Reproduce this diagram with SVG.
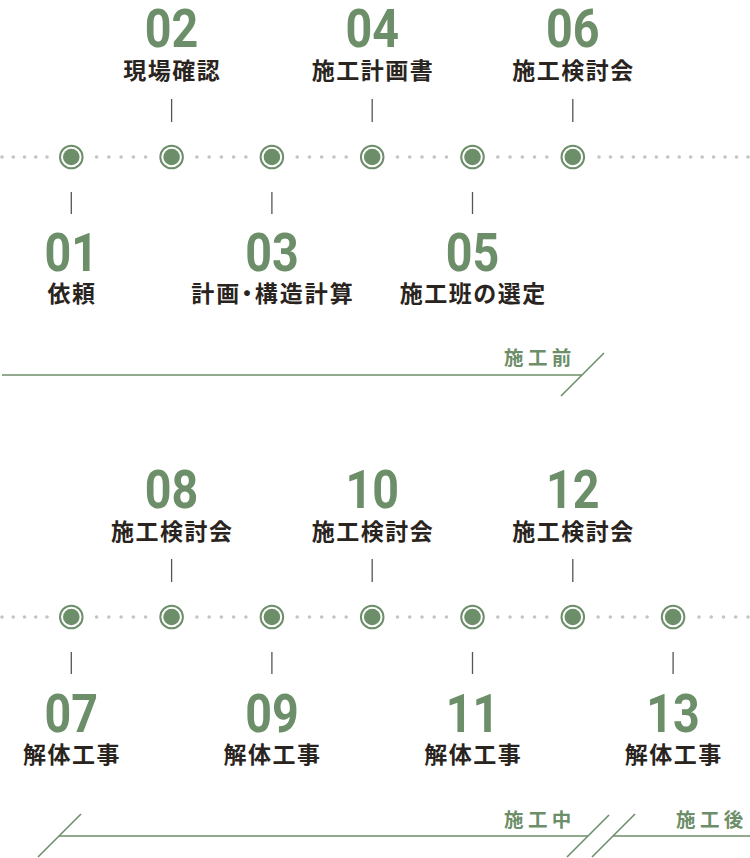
<svg xmlns="http://www.w3.org/2000/svg" width="750" height="858" viewBox="0 0 750 858">
<style>
.num{font-family:Roboto,"Liberation Sans",sans-serif;font-weight:700;font-size:53px;fill:#6c8e69;text-anchor:middle}
.lbl{font-family:"Noto Sans CJK JP","Noto Sans",sans-serif;font-weight:700;font-size:23px;letter-spacing:1.5px;fill:#2a2420;text-anchor:middle}
.palt{font-feature-settings:"palt";letter-spacing:2px}
.phase{font-family:"Noto Sans CJK JP","Noto Sans",sans-serif;font-weight:700;font-size:19.5px;letter-spacing:4.3px;fill:#6c8e69;text-anchor:end}
.tick{stroke:#555;stroke-width:1.3}
.ring{fill:#fff;stroke:#6c8e69;stroke-width:2}
.core{fill:#6c8e69}
.dots{stroke:#c4c4c4;stroke-width:3.6;stroke-linecap:round;fill:none}
.pl{stroke:#6c8e69;stroke-width:1.6;fill:none}
</style>
<defs>
<g id="mk"><circle class="ring" r="11.3"/><circle class="core" r="8.3"/></g>
</defs>
<g id="connectors">
<line class="dots" x1="2" y1="157" x2="47.3" y2="157" stroke-dasharray="0 11.25"/>
<line class="dots" x1="96.6" y1="157" x2="145.8" y2="157" stroke-dasharray="0 12.25"/>
<line class="dots" x1="196.9" y1="157" x2="246.1" y2="157" stroke-dasharray="0 12.25"/>
<line class="dots" x1="297.2" y1="157" x2="346.4" y2="157" stroke-dasharray="0 12.25"/>
<line class="dots" x1="397.5" y1="157" x2="446.7" y2="157" stroke-dasharray="0 12.25"/>
<line class="dots" x1="497.8" y1="157" x2="547" y2="157" stroke-dasharray="0 12.25"/>
<line class="dots" x1="599" y1="157" x2="748.3" y2="157" stroke-dasharray="0 11.46"/>
<line class="dots" x1="2" y1="617" x2="47.3" y2="617" stroke-dasharray="0 11.25"/>
<line class="dots" x1="96.6" y1="617" x2="145.8" y2="617" stroke-dasharray="0 12.25"/>
<line class="dots" x1="196.9" y1="617" x2="246.1" y2="617" stroke-dasharray="0 12.25"/>
<line class="dots" x1="297.2" y1="617" x2="346.4" y2="617" stroke-dasharray="0 12.25"/>
<line class="dots" x1="397.5" y1="617" x2="446.7" y2="617" stroke-dasharray="0 12.25"/>
<line class="dots" x1="497.8" y1="617" x2="547" y2="617" stroke-dasharray="0 12.25"/>
<line class="dots" x1="598.1" y1="617" x2="647.3" y2="617" stroke-dasharray="0 12.25"/>
<line class="dots" x1="699" y1="617" x2="748.3" y2="617" stroke-dasharray="0 12.25"/>
</g>
<g id="step01"><line class="tick" x1="71.3" y1="192" x2="71.3" y2="214"/><use href="#mk" x="71.3" y="157"/><text class="num" transform="translate(71.3,271) scale(0.88,1)">01</text><text class="lbl" x="72" y="301.5">依頼</text></g>
<g id="step02"><line class="tick" x1="171.6" y1="99" x2="171.6" y2="122"/><use href="#mk" x="171.6" y="157"/><text class="num" transform="translate(171.6,47) scale(0.88,1)">02</text><text class="lbl" x="172.3" y="78.5">現場確認</text></g>
<g id="step03"><line class="tick" x1="271.9" y1="192" x2="271.9" y2="214"/><use href="#mk" x="271.9" y="157"/><text class="num" transform="translate(271.9,271) scale(0.88,1)">03</text><text class="lbl palt" x="272.9" y="301.5">計画・構造計算</text></g>
<g id="step04"><line class="tick" x1="372.2" y1="99" x2="372.2" y2="122"/><use href="#mk" x="372.2" y="157"/><text class="num" transform="translate(372.2,47) scale(0.88,1)">04</text><text class="lbl" x="372.9" y="78.5">施工計画書</text></g>
<g id="step05"><line class="tick" x1="472.5" y1="192" x2="472.5" y2="214"/><use href="#mk" x="472.5" y="157"/><text class="num" transform="translate(472.5,271) scale(0.88,1)">05</text><text class="lbl" x="473.2" y="301.5">施工班の選定</text></g>
<g id="step06"><line class="tick" x1="572.8" y1="99" x2="572.8" y2="122"/><use href="#mk" x="572.8" y="157"/><text class="num" transform="translate(572.8,47) scale(0.88,1)">06</text><text class="lbl" x="573.5" y="78.5">施工検討会</text></g>
<g id="phase-before"><line class="pl" x1="2" y1="375" x2="582" y2="375"/><line class="pl" x1="561" y1="396" x2="604" y2="353"/><text class="phase" x="575.5" y="365">施工前</text></g>
<g id="step07"><line class="tick" x1="71.3" y1="652" x2="71.3" y2="674"/><use href="#mk" x="71.3" y="617"/><text class="num" transform="translate(71.3,732) scale(0.88,1)">07</text><text class="lbl" x="72" y="762.5">解体工事</text></g>
<g id="step08"><line class="tick" x1="171.6" y1="559" x2="171.6" y2="582"/><use href="#mk" x="171.6" y="617"/><text class="num" transform="translate(171.6,508) scale(0.88,1)">08</text><text class="lbl" x="172.3" y="539.5">施工検討会</text></g>
<g id="step09"><line class="tick" x1="271.9" y1="652" x2="271.9" y2="674"/><use href="#mk" x="271.9" y="617"/><text class="num" transform="translate(271.9,732) scale(0.88,1)">09</text><text class="lbl" x="272.6" y="762.5">解体工事</text></g>
<g id="step10"><line class="tick" x1="372.2" y1="559" x2="372.2" y2="582"/><use href="#mk" x="372.2" y="617"/><text class="num" transform="translate(372.2,508) scale(0.88,1)">10</text><text class="lbl" x="372.9" y="539.5">施工検討会</text></g>
<g id="step11"><line class="tick" x1="472.5" y1="652" x2="472.5" y2="674"/><use href="#mk" x="472.5" y="617"/><text class="num" transform="translate(472.5,732) scale(0.88,1)">11</text><text class="lbl" x="473.2" y="762.5">解体工事</text></g>
<g id="step12"><line class="tick" x1="572.8" y1="559" x2="572.8" y2="582"/><use href="#mk" x="572.8" y="617"/><text class="num" transform="translate(572.8,508) scale(0.88,1)">12</text><text class="lbl" x="573.5" y="539.5">施工検討会</text></g>
<g id="step13"><line class="tick" x1="673.1" y1="652" x2="673.1" y2="674"/><use href="#mk" x="673.1" y="617"/><text class="num" transform="translate(673.1,732) scale(0.88,1)">13</text><text class="lbl" x="673.8" y="762.5">解体工事</text></g>
<g id="phase-during"><line class="pl" x1="59" y1="836" x2="588" y2="836"/><line class="pl" x1="38" y1="857" x2="81" y2="814"/><line class="pl" x1="567" y1="857" x2="609" y2="815"/><text class="phase" x="575.5" y="827">施工中</text></g>
<g id="phase-after"><line class="pl" x1="613" y1="836" x2="750" y2="836"/><line class="pl" x1="592" y1="857" x2="635" y2="814"/><text class="phase" x="747.5" y="827">施工後</text></g>
</svg>
